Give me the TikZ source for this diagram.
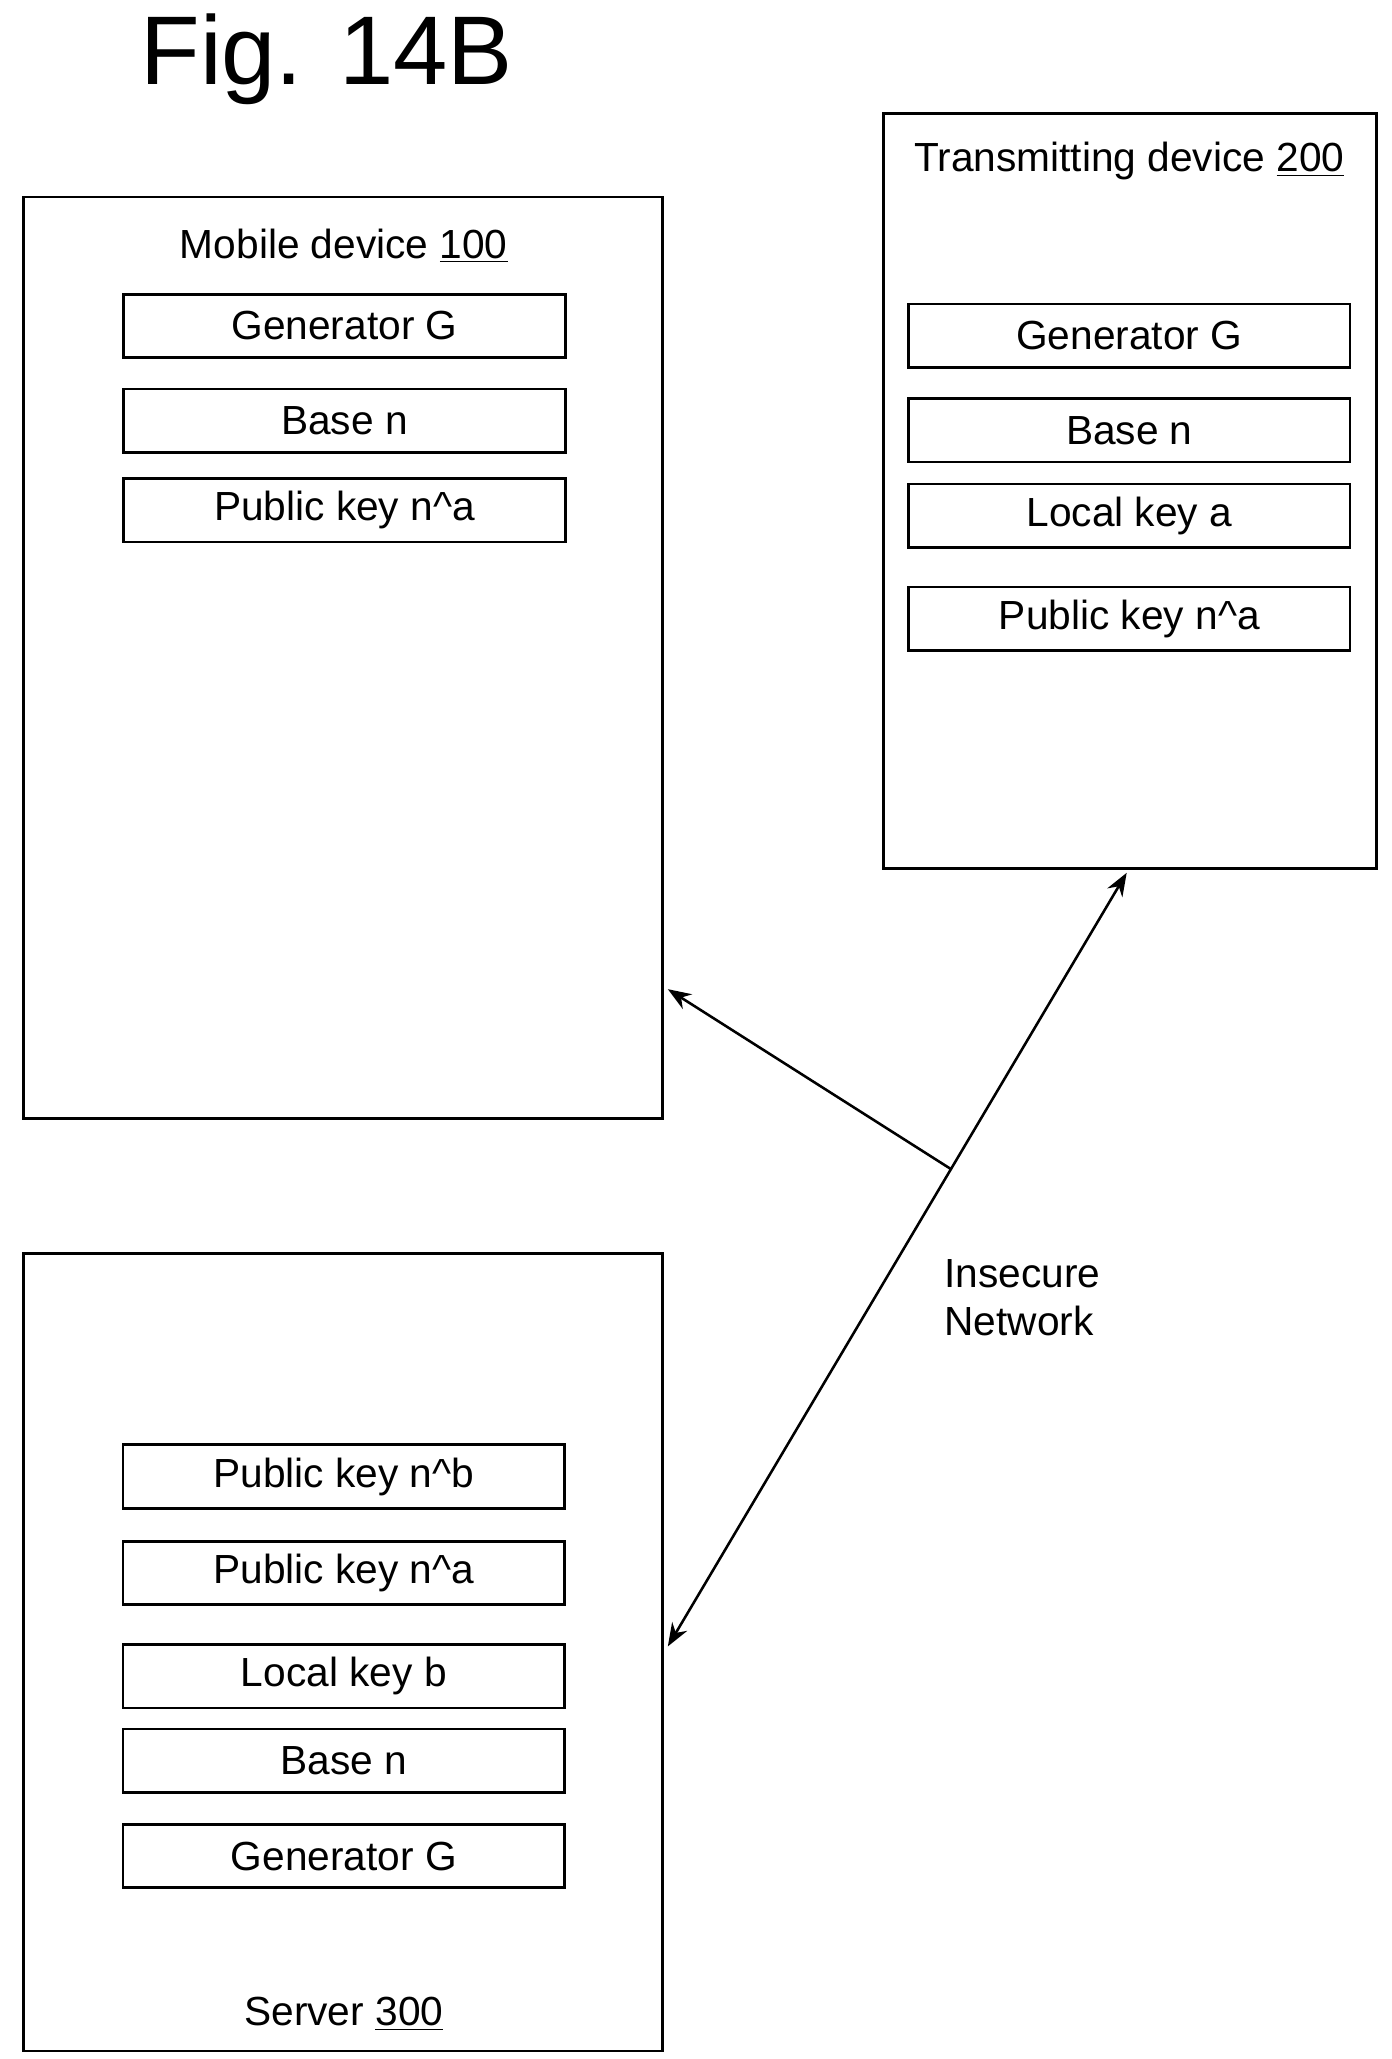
\documentclass[tikz,border=0pt]{standalone}
\usepackage{fontspec}
\setmainfont{Liberation Sans}
\usetikzlibrary{arrows.meta,calc}
\begin{document}
\begin{tikzpicture}[
  x=0.02cm, y=-0.02cm,
  device/.style={draw,line width=1.1pt,rectangle,anchor=north west},
  field/.style={draw,line width=1.1pt,rectangle,minimum width=6.68cm,minimum height=0.96cm,font=\fontsize{17.5}{21}\selectfont},
  label/.style={font=\fontsize{17.5}{21}\selectfont},
  link/.style={line width=1.1pt,-{Stealth[length=10pt]}},
]
  \useasboundingbox (0,0) rectangle (1052,1557);
  \node[font=\fontsize{42}{46}\selectfont] (fig) at (247,45) {Fig. 14B};

  % Mobile device
  \node[device,minimum width=9.66cm,minimum height=13.94cm] (mobile) at (17,148) {};
  \node[label] (mobiletitle) at (260,186) {Mobile device \underline{100}};
  \node[field] (mG) at (260.5,246.5) {Generator G};
  \node[field] (mn) at (260.5,318) {Base n};
  \node[field] (mpa) at (260.5,386) {Public key n\^{}a};

  % Transmitting device
  \node[device,minimum width=7.46cm,minimum height=11.42cm] (trans) at (667,85) {};
  \node[label] (transtitle) at (854,122) {Transmitting device \underline{200}};
  \node[field] (tG) at (854,254) {Generator G};
  \node[field] (tn) at (854,325.5) {Base n};
  \node[field] (ta) at (854,390) {Local key a};
  \node[field] (tpa) at (854,468) {Public key n\^{}a};

  % Server
  \node[device,minimum width=9.66cm,minimum height=12.06cm] (server) at (17,947) {};
  \node[field] (spb) at (260,1116.5) {Public key n\^{}b};
  \node[field] (spa) at (260,1189.5) {Public key n\^{}a};
  \node[field] (sb) at (260,1267.5) {Local key b};
  \node[field] (sn) at (260,1331.5) {Base n};
  \node[field] (sG) at (260,1403.5) {Generator G};
  \node[label] (servertitle) at (260,1523) {Server \underline{300}};

  % Network
  \coordinate (tip) at (852,660);
  \coordinate (stip) at (505,1245);
  \coordinate (branch) at ($(tip)!0.383!(stip)$);
  \coordinate (mtip) at (505,748);
  \draw[line width=1.1pt,{Stealth[length=10pt]}-{Stealth[length=10pt]}] (tip) -- (stip);
  \draw[link] (branch) -- (mtip);
  \node[label,align=left,anchor=north west] (net) at (708,946) {Insecure\\Network};
\end{tikzpicture}
\end{document}
